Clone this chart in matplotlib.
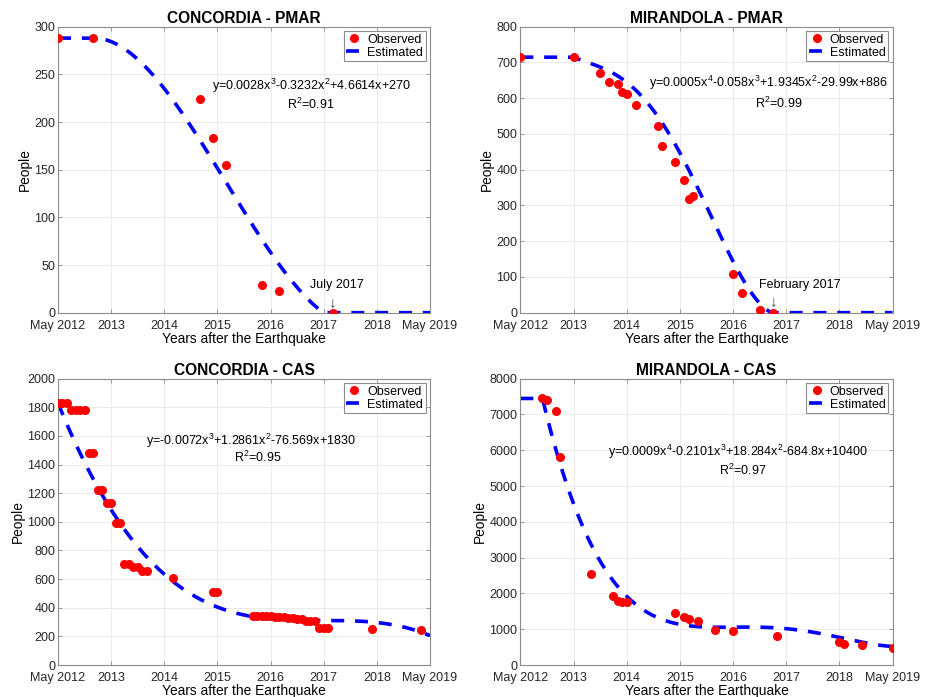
import numpy as np
import matplotlib
matplotlib.use("Agg")
import matplotlib.pyplot as plt

plt.rcParams['font.family'] = ['Liberation Sans', 'DejaVu Sans']
plt.rcParams['mathtext.default'] = 'regular'
plt.rcParams['axes.edgecolor'] = '#8c8c8c'
plt.rcParams['axes.linewidth'] = 0.8

# months since May 2012
tick_months = [0, 12, 24, 36, 48, 60, 72, 84]
tick_labels = ["May 2012", "2013", "2014", "2015", "2016", "2017", "2018", "May 2019"]

# Concordia - PMAR
conc_pmar_months = [0, 8, 32, 35, 38, 46, 50, 62]
conc_pmar_people = [288, 288, 224, 183, 155, 29, 23, 0]
conc_pmar_coef = [0.00284, -0.3232, 4.6614, 270]
conc_pmar_start = 8

# Mirandola - PMAR
mir_pmar_months = [0, 12, 18, 20, 22, 23, 24, 26, 31, 32, 35, 37, 38, 39, 48, 50, 54, 57]
mir_pmar_people = [715, 715, 671, 644, 640, 618, 613, 582, 522, 467, 422, 370, 318, 326,
                   109, 54, 7, 0]
mir_pmar_coef = [0.0005, -0.058, 1.9345, -29.99, 886]
mir_pmar_start = 12

# Concordia - CAS
conc_cas_months = [0, 1, 2, 3, 4, 5, 6, 7, 8, 9, 10, 11, 12, 13, 14, 15, 16, 17, 18, 19, 20,
                   26, 35, 36,
                   44, 45, 46, 47, 48, 49, 50, 51, 52, 53, 54, 55, 56, 57, 58,
                   59, 60, 61, 71, 82]
conc_cas_people = [1830, 1830, 1830, 1780, 1780, 1780, 1780, 1480, 1480, 1225, 1225,
                   1130, 1130, 995, 995, 705, 705, 685, 685, 660, 660,
                   605, 512, 512,
                   345, 345, 345, 340, 340, 335, 335, 335, 330, 330, 320, 320, 310, 305, 305,
                   260, 260, 260, 249, 244]
conc_cas_coef = [-0.0072, 1.2861, -76.569, 1830]
conc_cas_start = 0

# Mirandola - CAS
mir_cas_months = [5, 6, 8, 9, 16, 21, 22, 23, 24, 35, 37, 38, 40, 44, 48, 58, 72, 73, 77, 84]
mir_cas_people = [7470, 7410, 7110, 5800, 2530, 1930, 1780, 1760, 1750, 1445, 1350, 1285,
                  1229, 965, 945, 818, 652, 587, 550, 466]
mir_cas_coef = [0.000866, -0.2101, 18.284, -684.8, 10440]
mir_cas_start = 5

panels = [
    ("CONCORDIA - PMAR", conc_pmar_months, conc_pmar_people, conc_pmar_coef, conc_pmar_start,
     (0, 300), np.arange(0, 301, 50),
     r"y=0.0028x$^{3}$-0.3232x$^{2}$+4.6614x+270", (57.2, 238),
     r"R$^{2}$=0.91", (57.0, 218),
     ("July 2017", (62.9, 29), (62, 11))),
    ("MIRANDOLA - PMAR", mir_pmar_months, mir_pmar_people, mir_pmar_coef, mir_pmar_start,
     (0, 800), np.arange(0, 801, 100),
     r"y=0.0005x$^{4}$-0.058x$^{3}$+1.9345x$^{2}$-29.99x+886", (55.9, 644),
     r"R$^{2}$=0.99", (58.2, 585),
     ("February 2017", (63.1, 78), (57.1, 33))),
    ("CONCORDIA - CAS", conc_cas_months, conc_cas_people, conc_cas_coef, conc_cas_start,
     (0, 2000), np.arange(0, 2001, 200),
     r"y=-0.0072x$^{3}$+1.2861x$^{2}$-76.569x+1830", (43.5, 1567),
     r"R$^{2}$=0.95", (45.2, 1448),
     None),
    ("MIRANDOLA - CAS", mir_cas_months, mir_cas_people, mir_cas_coef, mir_cas_start,
     (0, 8000), np.arange(0, 8001, 1000),
     r"y=0.0009x$^{4}$-0.2101x$^{3}$+18.284x$^{2}$-684.8x+10400", (49.2, 5942),
     r"R$^{2}$=0.97", (50.2, 5448),
     None),
]

positions = [
    [0.0626, 0.5514, 0.4013, 0.4103],
    [0.5613, 0.5514, 0.4016, 0.4103],
    [0.0626, 0.0459, 0.4013, 0.4108],
    [0.5613, 0.0459, 0.4016, 0.4108],
]


def estimated(coef, start, x):
    # polynomial fit held flat before its start month and at zero once it reaches zero
    y = np.polyval(coef, x)
    y[x < start] = np.polyval(coef, start)
    below = np.where((x >= start) & (y <= 0))[0]
    if len(below):
        y[below[0]:] = 0
    return y


fig = plt.figure(figsize=(9.27, 6.97), dpi=100)
xs = np.linspace(0, 84, 1681)

for (title, months, people, coef, start, ylim, yticks, eq, eq_pos, r2, r2_pos, note), pos \
        in zip(panels, positions):
    ax = fig.add_axes(pos)
    ax.plot(months, people, 'o', color='#ff0000', markersize=5.5, label="Observed", zorder=3)
    ax.plot(xs, estimated(coef, start, xs), color='#0000ff', linewidth=2.6,
            dashes=(3.6, 3.0), label="Estimated", zorder=2)

    ax.set_xlim(0, 84)
    ax.set_ylim(*ylim)
    ax.set_xticks(tick_months)
    ax.set_xticklabels(tick_labels)
    ax.set_yticks(yticks)
    ax.tick_params(direction='in', length=3, width=0.6, color='#8c8c8c',
                   labelsize=9, labelcolor='#262626', top=True, right=True, pad=2)
    ax.tick_params(axis='x', pad=5)
    ax.grid(True, color='#e8e8e8', linewidth=0.6)
    ax.set_axisbelow(True)

    ax.set_title(title, fontsize=11.2, fontweight='bold', pad=3)
    ax.set_xlabel("Years after the Earthquake", fontsize=9.9, labelpad=0)
    ax.set_ylabel("People", fontsize=9.9, labelpad=2)

    ax.text(eq_pos[0], eq_pos[1], eq, ha='center', va='center', fontsize=9.0)
    ax.text(r2_pos[0], r2_pos[1], r2, ha='center', va='center', fontsize=9.0)

    if note is not None:
        label, label_pos, arrow_pos = note
        ax.text(label_pos[0], label_pos[1], label, ha='center', va='center', fontsize=9.0)
        ax.text(arrow_pos[0], arrow_pos[1], "\u2193", ha='center', va='center',
                fontsize=11, color='#444444')

    leg = ax.legend(loc='upper right', fontsize=9, fancybox=False, framealpha=1,
                    edgecolor='#8c8c8c', borderaxespad=0.35, handlelength=1.3,
                    handletextpad=0.4, borderpad=0.2, labelspacing=0.1)
    leg.get_frame().set_linewidth(0.8)

fig.savefig("out.png", dpi=100)
